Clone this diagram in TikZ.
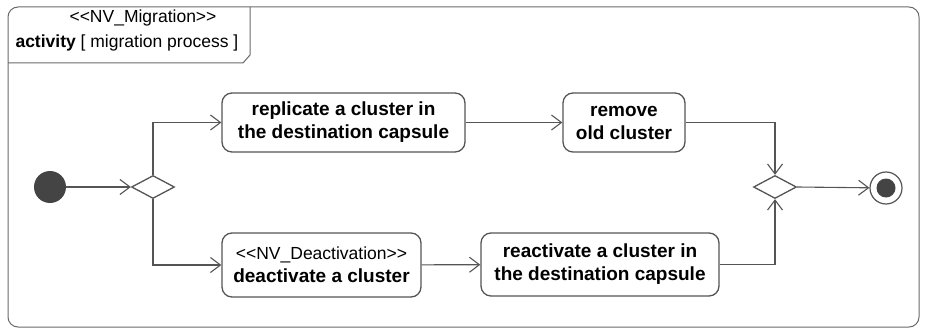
\documentclass[tikz,border=0pt]{standalone}
\usepackage{fontspec}
\setmainfont{Liberation Sans}
\usetikzlibrary{arrows.meta,shapes.geometric}

\definecolor{linegray}{HTML}{555555}
\definecolor{framegray}{HTML}{6A6A6A}
\definecolor{dotgray}{HTML}{444444}

\tikzset{
  action/.style={draw=linegray,line width=1.3pt,rounded corners=10pt,fill=white,
    align=center,inner sep=0pt,font=\bfseries\fontsize{19}{23}\selectfont},
  decision/.style={diamond,draw=linegray,line width=1.3pt,fill=white,
    minimum width=43pt,minimum height=23pt,inner sep=0pt},
  initial/.style={circle,fill=dotgray,minimum size=32pt,inner sep=0pt},
  final/.style={circle,draw=linegray,line width=1.2pt,fill=white,minimum size=32pt,inner sep=0pt},
  flow/.style={draw=linegray,line width=1.1pt,-{Straight Barb[length=10pt,width=15pt,line width=1.1pt]}},
  stereo/.style={font=\fontsize{17.5}{21}\selectfont}
}

\begin{document}
\begin{tikzpicture}[x=1pt,y=-1pt]
  \useasboundingbox (0,0) rectangle (925,331);

  % frame
  \draw[framegray,line width=1pt,rounded corners=10pt] (8,7) rectangle (919,327);
  \draw[framegray,line width=1pt] (8,63) -- (243,63) -- (250,55) -- (250,7);
  \node[stereo] (fstereo) at (143,18) {<{}<NV\_Migration>{}>};
  \node[stereo,anchor=west] (fname) at (12,43) {\textbf{activity} [ migration process ]};

  % nodes
  \node[initial] (start) at (50,187) {};
  \node[decision] (fork) at (153,187) {};
  \node[action,minimum width=243pt,minimum height=59pt] (replicate) at (343.5,122.5)
    {replicate a cluster in\\the destination capsule};
  \node[action,minimum width=122pt,minimum height=59pt] (remove) at (624,122.5)
    {remove\\old cluster};
  \node[action,minimum width=199pt,minimum height=64pt] (deactivate) at (321.5,265)
    {{\mdseries\fontsize{17.5}{23}\selectfont <{}<NV\_Deactivation>{}>}\\deactivate a cluster};
  \node[action,minimum width=238pt,minimum height=63pt] (reactivate) at (600,264.5)
    {reactivate a cluster in\\the destination capsule};
  \node[decision] (join) at (775,187) {};
  \node[final] (end) at (886,188) {};
  \fill[dotgray] (end.center) circle (9.5);

  % flows
  \draw[flow] (start) -- (fork.west);
  \draw[flow] (fork.north) |- (replicate.west);
  \draw[flow] (fork.south) |- (deactivate.west);
  \draw[flow] (replicate) -- (remove);
  \draw[flow] (deactivate) -- (reactivate);
  \draw[flow] (remove.east) -| (join.north);
  \draw[flow] (reactivate.east) -| (join.south);
  \draw[flow] (join.east) -- (end);

\end{tikzpicture}
\end{document}
